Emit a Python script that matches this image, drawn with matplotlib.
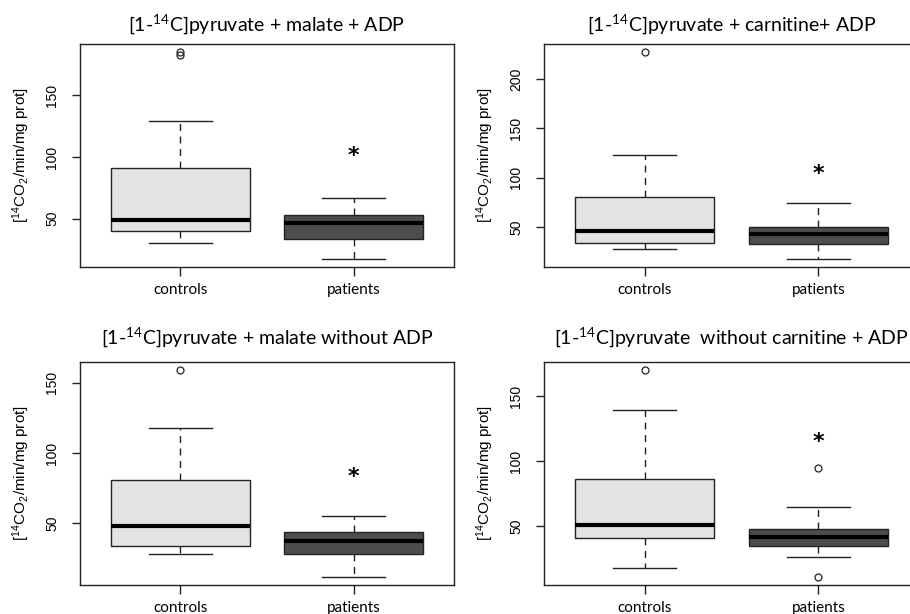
import matplotlib
matplotlib.use("Agg")
import matplotlib.pyplot as plt
from matplotlib.transforms import offset_copy

plt.rcParams['mathtext.default'] = 'regular'

titles = [
    r"[1-$^{14}$C]pyruvate + malate + ADP",
    r"[1-$^{14}$C]pyruvate + carnitine+ ADP",
    r"[1-$^{14}$C]pyruvate + malate without ADP",
    r"[1-$^{14}$C]pyruvate  without carnitine + ADP",
]
groups = ["controls", "patients"]
ylabel = r"[$^{14}$CO$_2$/min/mg prot]"

# controls
ctrl_med = [49, 46, 48, 50.5]
ctrl_q1 = [40, 34, 34, 41]
ctrl_q3 = [91.5, 80, 81, 86]
ctrl_lo = [30, 28, 28.5, 18]
ctrl_hi = [129.5, 123.5, 118, 139.5]
ctrl_out = [[183, 185], [227], [159], [170]]
# patients
pat_med = [46.5, 43, 37.5, 41.5]
pat_q1 = [33.5, 33, 28.5, 35]
pat_q3 = [53, 50.5, 43.5, 48]
pat_lo = [17.5, 18, 12, 26.5]
pat_hi = [66.5, 74, 55.5, 64.5]
pat_out = [[], [], [], [95, 11]]

star_y = [104, 108, 86, 118]
yticks = [[50, 100, 150], [50, 100, 150, 200], [50, 100, 150], [50, 100, 150]]

W, H = 910, 614
fig = plt.figure(figsize=(W / 100, H / 100), dpi=100)

# axes boxes in pixels: left, top, right, bottom
boxes = [(80, 44, 454, 267), (544, 44, 919, 267),
         (80, 362, 454, 585), (544, 362, 919, 585)]
title_pad = [10, 10, 13.5, 13.5]

for i in range(4):
    l, t, r, b = boxes[i]
    ax = fig.add_axes([l / W, 1 - b / H, (r - l) / W, (b - t) / H])
    stats = [
        dict(med=ctrl_med[i], q1=ctrl_q1[i], q3=ctrl_q3[i],
             whislo=ctrl_lo[i], whishi=ctrl_hi[i], fliers=ctrl_out[i]),
        dict(med=pat_med[i], q1=pat_q1[i], q3=pat_q3[i],
             whislo=pat_lo[i], whishi=pat_hi[i], fliers=pat_out[i]),
    ]
    bp = ax.bxp(stats, positions=[1, 2], widths=0.8, patch_artist=True,
                capwidths=0.36,
                boxprops=dict(edgecolor="#222222", linewidth=1),
                medianprops=dict(color="black", linewidth=3, solid_capstyle="butt"),
                whiskerprops=dict(color="#222222", linewidth=1, linestyle=(0, (5, 4))),
                capprops=dict(color="#222222", linewidth=1),
                flierprops=dict(marker="o", markersize=5, markerfacecolor="none",
                                markeredgecolor="#222222", markeredgewidth=0.9))
    bp["boxes"][0].set_facecolor("#e3e3e3")
    bp["boxes"][1].set_facecolor("#4d4d4d")

    vals = [v for s in stats for v in (s["whislo"], s["whishi"], *s["fliers"])]
    lo, hi = min(vals), max(vals)
    pad = (hi - lo) * 0.04
    ax.set_ylim(lo - pad, hi + pad)
    ax.set_xlim(0.42, 2.58)

    ax.set_yticks(yticks[i])
    ax.set_yticklabels([str(v) for v in yticks[i]], rotation=90, va="center",
                       family="Liberation Sans", fontsize=10)
    ax.set_xticks([1, 2])
    ax.set_xticklabels(groups, family="Lato", fontsize=11)
    ax.tick_params(axis="y", length=6, width=1, pad=9, color="#222222")
    ax.tick_params(axis="x", length=6.5, width=1, pad=5, color="#222222")
    for sp in ax.spines.values():
        sp.set_color("#222222")
        sp.set_linewidth(1)

    ax.set_ylabel(ylabel, family="Liberation Sans", fontsize=11)
    ax.yaxis.set_label_coords(-48 / (r - l), 0.5)
    ax.set_title(titles[i], family="Lato", fontsize=14, pad=title_pad[i])

    tr = offset_copy(ax.transData, fig=fig, x=0, y=-4, units="dots")
    ax.text(2, star_y[i], "*", ha="center", va="center", fontsize=16,
            fontweight="bold", family="DejaVu Sans", transform=tr)

fig.savefig("out.png", dpi=100)
